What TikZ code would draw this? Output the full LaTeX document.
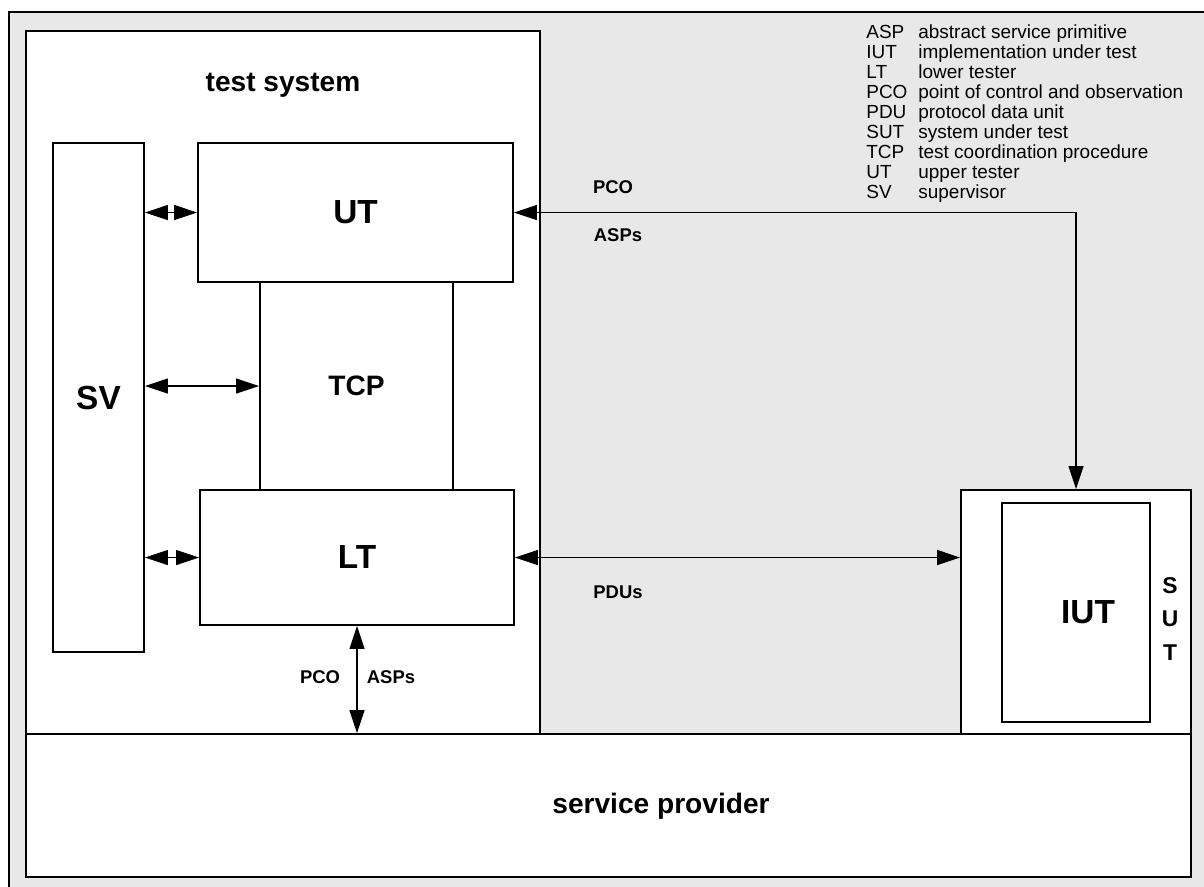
\documentclass[tikz,border=0pt]{standalone}
\usepackage{fontspec}
\setmainfont{Liberation Sans}
\usetikzlibrary{arrows.meta,positioning,calc}
\definecolor{panelgray}{RGB}{232,232,232}

\begin{document}
\begin{tikzpicture}[
    box/.style={rectangle, draw, line width=1.1pt, fill=white, inner sep=0pt},
    big/.style={font=\fontsize{19}{22}\selectfont\bfseries},
    title/.style={font=\fontsize{16}{19}\selectfont\bfseries},
    tag/.style={font=\fontsize{10.5}{12}\selectfont\bfseries},
    legend/.style={font=\fontsize{10.8}{12}\selectfont, anchor=base west, inner sep=0pt},
    link/.style={{Triangle[length=13pt,width=8.5pt]}-{Triangle[length=13pt,width=8.5pt]}, line width=0.6pt}
]
    \useasboundingbox (0,0) rectangle (24.08,-17.72);

    % Frame
    \draw[line width=1.1pt, fill=panelgray] (0.18,-0.24) rectangle (24.6,-18.2);

    % Test system and service provider
    \node[box, minimum width=10.28cm, minimum height=14.06cm] (ts) at (5.66,-7.65) {};
    \node[title, below=0.74cm of ts.north] (tslabel) {test system};
    \node[box, minimum width=23.30cm, minimum height=2.86cm] (sp) at (12.17,-16.11) {};
    \node[title] (splabel) at (13.22,-16.12) {service provider};

    % Testers
    \node[box, big, minimum width=1.82cm, minimum height=10.18cm] (sv) at (1.97,-7.95) {SV};
    \node[box, big, minimum width=6.30cm, minimum height=2.78cm] (ut) at (7.11,-4.25) {UT};
    \node[box, font=\fontsize{16}{19}\selectfont\bfseries, minimum width=3.86cm, minimum height=4.16cm] (tcp) at (7.13,-7.72) {TCP};
    \node[box, big, minimum width=6.28cm, minimum height=2.70cm] (lt) at (7.14,-11.15) {LT};

    % System under test
    \node[box, minimum width=4.60cm, minimum height=4.88cm] (sut) at (21.52,-12.24) {};
    \node[box, minimum width=2.96cm, minimum height=4.38cm] (iut) at (21.52,-12.25) {};
    \node[big] (iutlabel) at ([xshift=0.24cm]iut.center) {IUT};
    \node[font=\fontsize{13}{19.3}\selectfont\bfseries, align=center] (sutlabel) at (23.40,-12.38) {S\\U\\T};

    % Edges
    \draw[link] (sv.east |- ut.west) -- (ut.west);
    \draw[link] (sv.east |- tcp.west) -- (tcp.west);
    \draw[link] (sv.east |- lt.west) -- (lt.west);
    \draw[link] (ut.east) -| (sut.north);
    \draw[link] (lt.east) -- (lt.east -| sut.west);
    \draw[link] (lt.south) -- (lt.south |- sp.north);

    % Edge labels
    \node[tag] (pco1) at (12.26,-3.74) {PCO};
    \node[tag] (asp1) at (12.36,-4.70) {ASPs};
    \node[tag] (pdu) at (12.36,-11.84) {PDUs};
    \node[tag] (pco2) at (6.40,-13.54) {PCO};
    \node[tag] (asp2) at (7.82,-13.54) {ASPs};

    % Abbreviations
    \foreach \abbr/\text [count=\i from 0] in {ASP/abstract service primitive, IUT/implementation under test,
        LT/lower tester, PCO/point of control and observation, PDU/protocol data unit,
        SUT/system under test, TCP/test coordination procedure, UT/upper tester, SV/supervisor} {
        \node[legend] (abbr\i) at (17.32,-0.76-0.40*\i) {\abbr};
        \node[legend] (desc\i) at (18.36,-0.76-0.40*\i) {\text};
    }
\end{tikzpicture}
\end{document}
